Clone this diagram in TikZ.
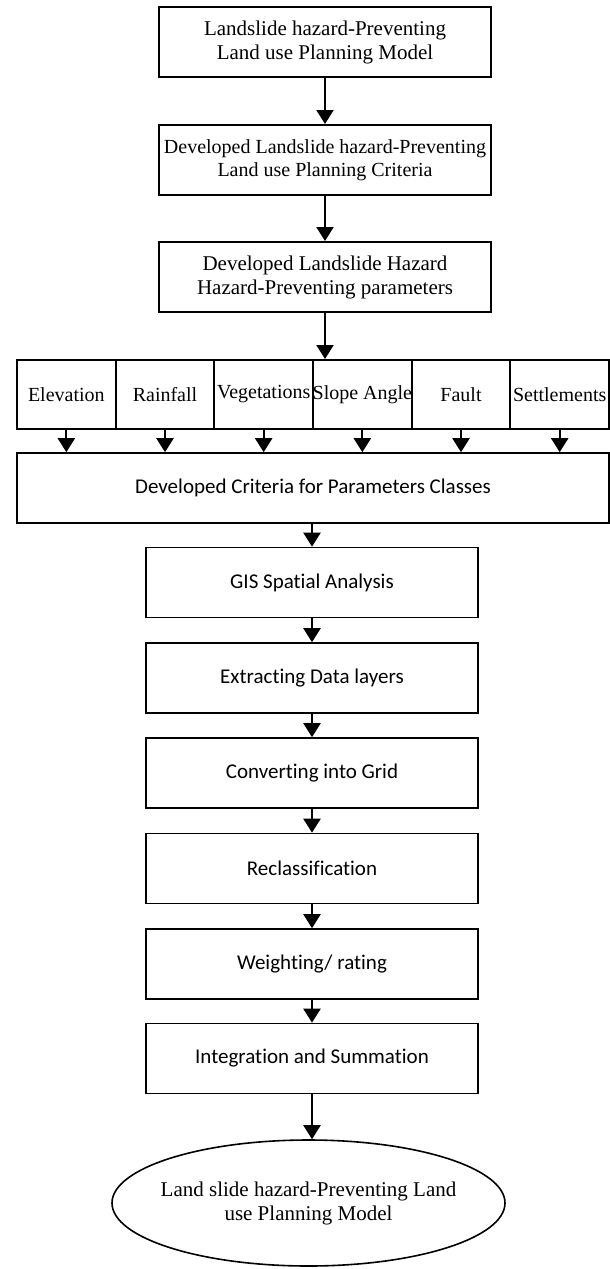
\documentclass[tikz,border=0pt]{standalone}
\usepackage{fontspec}
\setmainfont{Liberation Serif}
\newfontfamily\calib[Ligatures=NoCommon]{Carlito}
\usepackage{tikz}
\usetikzlibrary{arrows.meta, shapes.geometric}
\tikzset{
  topbox/.style={draw, line width=1pt, minimum width=166pt, minimum height=35pt,
    align=center, inner sep=2pt, font=\fontsize{10.5}{12}\selectfont},
  parambox/.style={draw, line width=1pt, minimum width=49.33pt, minimum height=34.5pt,
    inner sep=0pt, font=\fontsize{10}{12}\selectfont},
  stepbox/.style={draw, line width=0.8pt, minimum width=166pt, minimum height=35pt,
    font=\calib\fontsize{10.5}{12}\selectfont},
  endoval/.style={draw, ellipse, line width=0.8pt, minimum width=196.5pt, minimum height=63pt,
    inner xsep=-10pt, inner ysep=0pt, align=center, font=\fontsize{10.5}{12}\selectfont},
  flow/.style={line width=1.1pt, -{Triangle[width=8.5pt,length=7pt]}}
}

\begin{document}
\begin{tikzpicture}[x=0.5pt,y=-0.5pt]
  \useasboundingbox (0,0) rectangle (610,1269);
  % upper part
  \node[topbox] (model) at (325,42) {Landslide hazard-Preventing\\Land use Planning Model};
  \node[topbox, font=\fontsize{10}{11.5}\selectfont] (crit) at (325,160) {Developed Landslide hazard-Preventing\\Land use Planning Criteria};
  \node[topbox] (param) at (325,277) {Developed Landslide Hazard\\Hazard-Preventing parameters};
  \draw[flow] (model) -- (crit);
  \draw[flow] (crit) -- (param);
  % parameters
  \foreach \name [count=\i] in {Elevation,Rainfall,Vegetations,Slope Angle,Fault,Settlements}
    \node[parambox] (p\i) at ({17+98.67*(\i-0.5)},394.5) {\name};
  \draw[flow] (param.south) -- (param.south |- p4.north);
  \node[stepbox, minimum width=296pt] (classes) at (313,488) {Developed Criteria for Parameters Classes};
  \foreach \i in {1,...,6}
    \draw[flow] (p\i.south) -- (p\i.south |- classes.north);
  % GIS steps
  \node[stepbox] (gis) at (312,582.5) {GIS Spatial Analysis};
  \node[stepbox] (extract) at (312,678) {Extracting Data layers};
  \node[stepbox] (grid) at (312,773) {Converting into Grid};
  \node[stepbox] (reclass) at (312,868.5) {Reclassification};
  \node[stepbox] (weight) at (312,964) {Weighting/ rating};
  \node[stepbox] (integ) at (312,1058.5) {Integration and Summation};
  \node[endoval] (final) at (308.5,1203) {Land slide hazard-Preventing Land\\use Planning Model};
  \draw[flow] (gis.north |- classes.south) -- (gis);
  \draw[flow] (gis) -- (extract);
  \draw[flow] (extract) -- (grid);
  \draw[flow] (grid) -- (reclass);
  \draw[flow] (reclass) -- (weight);
  \draw[flow] (weight) -- (integ);
  \draw[flow] (integ.south) -- (integ.south |- final.north);
\end{tikzpicture}
\end{document}
